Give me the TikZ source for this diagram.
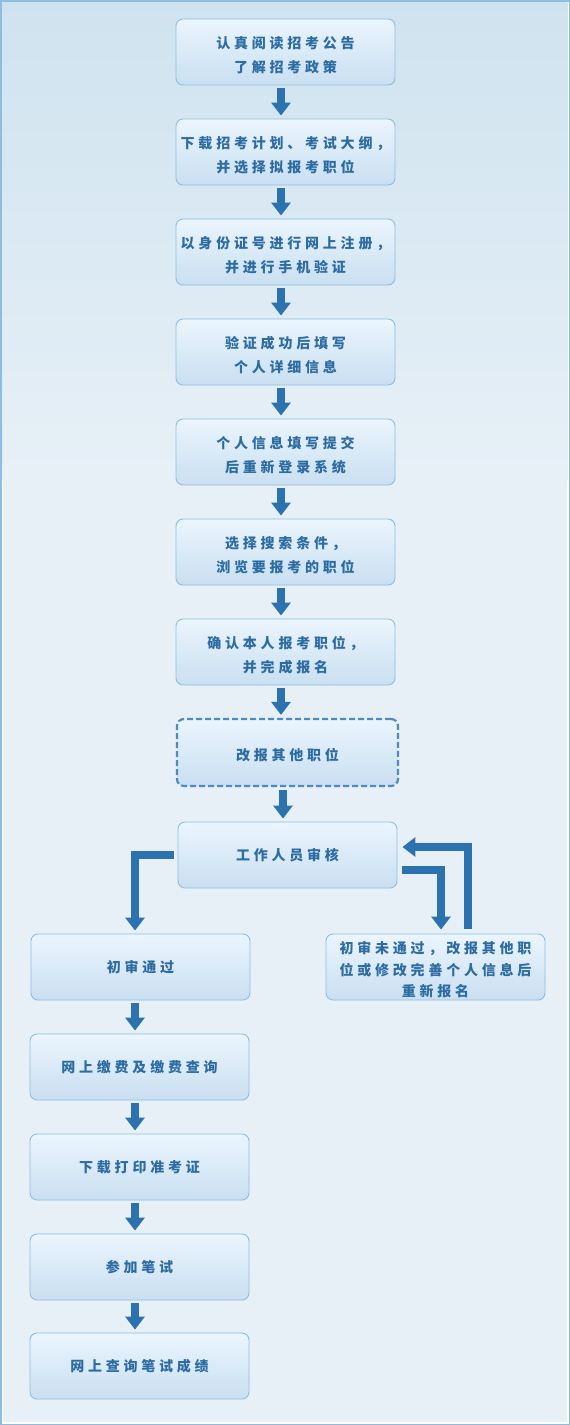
\documentclass[tikz,border=0pt]{standalone}
\usepackage{fontspec}
\newfontfamily\cjk{Noto Sans CJK SC}[LetterSpace=27]
\usetikzlibrary{arrows.meta,calc}
\definecolor{arrowblue}{HTML}{2B72AE}
\definecolor{boxline}{HTML}{8FBDE0}
\definecolor{boxtop}{HTML}{EBF5FD}
\definecolor{boxbot}{HTML}{C9DFF1}
\definecolor{txtblue}{HTML}{2C6CA3}
\definecolor{dashblue}{HTML}{4D8BC0}
\definecolor{frameblue}{HTML}{8EBDE2}
\definecolor{bgtop}{HTML}{CFE3EF}
\definecolor{bgbot}{HTML}{E7F0F7}
\newcommand\liftA{\rule{0pt}{19pt}}
\newcommand\liftB{\rule{0pt}{17.5pt}}
\begin{document}
\begin{tikzpicture}[x=1pt,y=-1pt,
  box/.style={draw=boxline, line width=0.9pt, rounded corners=7pt, top color=boxtop, bottom color=boxbot,
    minimum width=219pt, minimum height=66pt, inner sep=0pt, align=center, text=txtblue,
    font=\cjk\bfseries\fontsize{14}{24}\selectfont},
  dbox/.style={box, draw=dashblue, line width=2.2pt, dash pattern=on 6pt off 3pt, minimum width=221pt, minimum height=67pt},
  arr/.style={draw=arrowblue, line width=8pt, line join=miter, -{Triangle[width=19pt,length=13pt]}, shorten <=3pt, shorten >=3pt}
]
\useasboundingbox (0,0) rectangle (570,1425);
% frame and background
\fill[frameblue] (0,0) rectangle (570,1425);
\fill[white] (1.5,1.5) rectangle (568.5,1423.5);
\fill[bgbot] (2.7,2.7) rectangle (567.3,1422.3);
\shade[top color=bgtop, bottom color=bgbot] (2.7,2.7) rectangle (567.3,480);

% top column
\node[box] (b1) at (285.5,52) {\liftA 认真阅读招考公告\\了解招考政策};
\node[box] (b2) at (285.5,152) {\liftA 下载招考计划、考试大纲，\\并选择拟报考职位};
\node[box] (b3) at (285.5,252) {\liftA 以身份证号进行网上注册，\\并进行手机验证};
\node[box] (b4) at (285.5,352) {\liftA 验证成功后填写\\个人详细信息};
\node[box] (b5) at (285.5,452) {\liftA 个人信息填写提交\\后重新登录系统};
\node[box] (b6) at (285.5,552) {\liftA 选择搜索条件，\\浏览要报考的职位};
\node[box] (b7) at (285.5,652) {\liftA 确认本人报考职位，\\并完成报名};
\node[dbox] (b8) at (287.5,752.5) {\liftB 改报其他职位};
\node[box] (audit) at (287.5,855) {工作人员审核};

\node[box] (pass) at (140.5,967) {初审通过};
\node[box, font=\cjk\bfseries\fontsize{14}{21.5}\selectfont] (rej) at (435.5,967) {\liftB 初审未通过，改报其他职\\位或修改完善个人信息后\\重新报名};

\node[box] (l1) at (139.5,1067) {网上缴费及缴费查询};
\node[box] (l2) at (139.5,1167) {下载打印准考证};
\node[box] (l3) at (139.5,1267) {参加笔试};
\node[box] (l4) at (139.5,1366) {网上查询笔试成绩};

\coordinate (tx) at (281,0);
\coordinate (tx2) at (283,0);
\coordinate (lx) at (135,0);

\draw[arr] (b1.south -| tx) -- (b2.north -| tx);
\draw[arr] (b2.south -| tx) -- (b3.north -| tx);
\draw[arr] (b3.south -| tx) -- (b4.north -| tx);
\draw[arr] (b4.south -| tx) -- (b5.north -| tx);
\draw[arr] (b5.south -| tx) -- (b6.north -| tx);
\draw[arr] (b6.south -| tx) -- (b7.north -| tx);
\draw[arr] (b7.south -| tx) -- (b8.north -| tx);
\draw[arr] (b8.south -| tx2) -- (audit.north -| tx2);

% elbow arrows
\draw[arr, shorten <=4pt] (audit.west) -| (pass.north -| lx);
\draw[arr, shorten <=5pt, shorten >=4pt] ([yshift=-15pt]audit.east) -| ([xshift=5.5pt]rej.north);
\draw[arr, shorten <=5pt, shorten >=5pt] ([xshift=32.5pt]rej.north) |- ([yshift=8pt]audit.east);

\draw[arr] (pass.south -| lx) -- (l1.north -| lx);
\draw[arr] (l1.south -| lx) -- (l2.north -| lx);
\draw[arr] (l2.south -| lx) -- (l3.north -| lx);
\draw[arr] (l3.south -| lx) -- (l4.north -| lx);
\end{tikzpicture}
\end{document}
